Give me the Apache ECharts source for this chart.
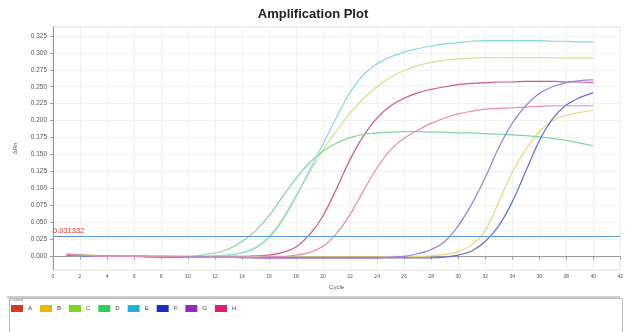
<!DOCTYPE html>
<html>
<head>
<meta charset="utf-8">
<script src="https://cdn.jsdelivr.net/npm/echarts@6/dist/echarts.min.js"></script>
<style>
  html, body { margin: 0; padding: 0; background: #fff; }
  #chart { width: 626px; height: 332px; }
</style>
</head>
<body>
<div id="chart"></div>
<script>
const cycles = [1, 2, 3, 4, 5, 6, 7, 8, 9, 10, 11, 12, 13, 14, 15, 16, 17, 18, 19, 20,
  21, 22, 23, 24, 25, 26, 27, 28, 29, 30, 31, 32, 33, 34, 35, 36, 37, 38, 39, 40];

const wells = ["A", "B", "C", "D", "E", "F", "G", "H"];

const wellA = [0.003, 0.002, 0.001, 0.001, 0.000, 0.000, 0.000, 0.000, -0.001, -0.001,
  -0.001, -0.001, 0.000, 0.000, 0.001, 0.002, 0.006, 0.014, 0.032, 0.060,
  0.100, 0.143, 0.178, 0.204, 0.222, 0.233, 0.241, 0.246, 0.250, 0.253,
  0.255, 0.256, 0.257, 0.257, 0.258, 0.258, 0.258, 0.257, 0.257, 0.256];
const wellB = [0.004, 0.003, 0.002, 0.001, 0.001, 0.000, 0.000, 0.000, 0.000, 0.000,
  0.000, 0.000, 0.000, 0.000, 0.000, 0.000, -0.001, -0.001, -0.001, -0.001,
  -0.001, -0.001, -0.001, -0.001, 0.000, 0.000, 0.000, 0.001, 0.003, 0.007,
  0.017, 0.038, 0.080, 0.124, 0.157, 0.184, 0.200, 0.208, 0.212, 0.215];
const wellC = [0.003, 0.002, 0.001, 0.001, 0.000, 0.000, 0.000, 0.000, 0.000, 0.000,
  0.000, 0.000, 0.002, 0.006, 0.014, 0.030, 0.056, 0.090, 0.124, 0.157,
  0.185, 0.211, 0.233, 0.250, 0.264, 0.274, 0.281, 0.286, 0.289, 0.291,
  0.292, 0.293, 0.293, 0.293, 0.293, 0.293, 0.293, 0.292, 0.292, 0.292];
const wellD = [0.002, 0.002, 0.001, 0.001, 0.000, 0.000, 0.000, 0.000, 0.000, 0.000,
  0.002, 0.005, 0.011, 0.022, 0.038, 0.060, 0.088, 0.115, 0.138, 0.155,
  0.167, 0.175, 0.180, 0.182, 0.183, 0.184, 0.184, 0.183, 0.183, 0.182,
  0.182, 0.181, 0.180, 0.179, 0.178, 0.176, 0.174, 0.171, 0.167, 0.163];
const wellE = [0.002, 0.001, 0.001, 0.000, 0.000, 0.000, 0.000, 0.000, 0.000, 0.000,
  0.000, 0.001, 0.002, 0.005, 0.012, 0.027, 0.053, 0.088, 0.127, 0.166,
  0.205, 0.242, 0.268, 0.284, 0.294, 0.301, 0.306, 0.310, 0.313, 0.315,
  0.317, 0.318, 0.318, 0.318, 0.318, 0.318, 0.317, 0.317, 0.316, 0.316];
const wellF = [0.002, 0.001, 0.000, 0.000, 0.000, 0.000, 0.000, -0.001, -0.001, -0.001,
  -0.001, -0.001, -0.001, -0.001, -0.002, -0.002, -0.002, -0.002, -0.002, -0.002,
  -0.002, -0.002, -0.002, -0.002, -0.002, -0.002, -0.002, -0.002, -0.001, 0.002,
  0.008, 0.022, 0.045, 0.080, 0.125, 0.170, 0.203, 0.223, 0.234, 0.241];
const wellG = [0.003, 0.002, 0.000, 0.000, 0.000, 0.000, -0.001, -0.001, -0.001, -0.001,
  -0.001, -0.001, -0.001, -0.002, -0.002, -0.002, -0.002, -0.002, -0.002, -0.002,
  -0.002, -0.002, -0.002, -0.002, -0.001, 0.000, 0.004, 0.010, 0.022, 0.045,
  0.077, 0.116, 0.160, 0.196, 0.222, 0.240, 0.250, 0.256, 0.259, 0.260];
const wellH = [0.003, 0.002, 0.001, 0.000, 0.000, 0.000, 0.000, 0.000, 0.000, -0.001,
  -0.001, -0.001, -0.001, -0.001, -0.001, 0.000, 0.000, 0.002, 0.006, 0.015,
  0.034, 0.062, 0.097, 0.131, 0.157, 0.174, 0.186, 0.196, 0.204, 0.210,
  0.214, 0.217, 0.218, 0.219, 0.220, 0.221, 0.222, 0.222, 0.222, 0.222];

const yTicks = [0, 0.025, 0.05, 0.075, 0.1, 0.125, 0.15, 0.175, 0.2, 0.225, 0.25, 0.275, 0.3, 0.325];
const threshold = 0.031332;

const values = [wellA, wellB, wellC, wellD, wellE, wellF, wellG, wellH];
const swatchColors = ["#d9361f", "#e6b800", "#7fd61e", "#2ecf55", "#1fb4d6", "#1b2bc4", "#8b2bcf", "#df1d72"];
const lineColors = ["#cf5a7c", "#f0d27a", "#c9e68e", "#82d69a", "#85d7e8", "#5f6fd6", "#9a80d6", "#e58cb0"];

const chart = echarts.init(document.getElementById("chart"));

const series = wells.map((name, i) => ({
  name: name,
  type: "line",
  smooth: 0.35,
  showSymbol: false,
  itemStyle: { color: swatchColors[i] },
  lineStyle: { color: lineColors[i], width: 1.2 },
  data: cycles.map((c, j) => [c, values[i][j]]),
  z: 3
}));

series[0].markLine = {
  silent: true,
  symbol: "none",
  lineStyle: { color: "#5b9bd5", width: 1.2, type: "solid" },
  label: {
    show: true,
    position: "insideStartTop",
    formatter: String(threshold),
    color: "#d03030",
    fontSize: 7.5,
    distance: [0, 1]
  },
  data: [{ yAxis: threshold }]
};

chart.setOption({
  animation: false,
  backgroundColor: "#fff",
  title: {
    text: "Amplification Plot",
    left: "center",
    top: 3,
    textStyle: { fontSize: 13, fontWeight: "bold", color: "#222", fontFamily: "Liberation Sans" }
  },
  grid: { left: 53, right: 5, top: 27, bottom: 62, show: true, borderColor: "#ddd", borderWidth: 1 },
  xAxis: {
    type: "value",
    min: 0,
    max: 42,
    interval: 2,
    name: "Cycle",
    nameLocation: "middle",
    nameGap: 11,
    nameTextStyle: { fontSize: 6, color: "#555" },
    axisLine: { lineStyle: { color: "#999" } },
    axisTick: { length: 3, lineStyle: { color: "#999" } },
    axisLabel: { fontSize: 5, color: "#555", margin: 4 },
    splitLine: { lineStyle: { color: "#f0f0f0" } }
  },
  yAxis: {
    type: "value",
    min: -0.02,
    max: 0.338,
    name: "ΔRn",
    nameLocation: "middle",
    nameGap: 35,
    nameTextStyle: { fontSize: 6, color: "#555" },
    axisLine: { show: true, lineStyle: { color: "#999" } },
    axisTick: { show: true, length: 3, customValues: yTicks, lineStyle: { color: "#999" } },
    axisLabel: {
      fontSize: 6.5,
      color: "#555",
      margin: 6,
      customValues: yTicks,
      formatter: v => v.toFixed(3)
    },
    splitLine: { lineStyle: { color: "#f0f0f0" } }
  },
  legend: {
    data: wells,
    left: 6,
    top: 300,
    icon: "rect",
    itemWidth: 12,
    itemHeight: 7,
    itemGap: 8,
    textStyle: { fontSize: 6, color: "#444" }
  },
  graphic: [
    {
      type: "rect",
      left: 7,
      top: 296,
      shape: { width: 613, height: 40 },
      style: { fill: "none", stroke: "#bbb", lineWidth: 1 },
      silent: true
    },
    {
      type: "rect",
      left: 7,
      top: 296,
      shape: { width: 613, height: 2 },
      style: { fill: "#ccc" },
      silent: true
    },
    {
      type: "text",
      left: 10,
      top: 298,
      style: { text: "Legend", fontSize: 4, fill: "#888" },
      silent: true
    }
  ],
  series: series
});

window.addEventListener("resize", () => chart.resize());
</script>
</body>
</html>
